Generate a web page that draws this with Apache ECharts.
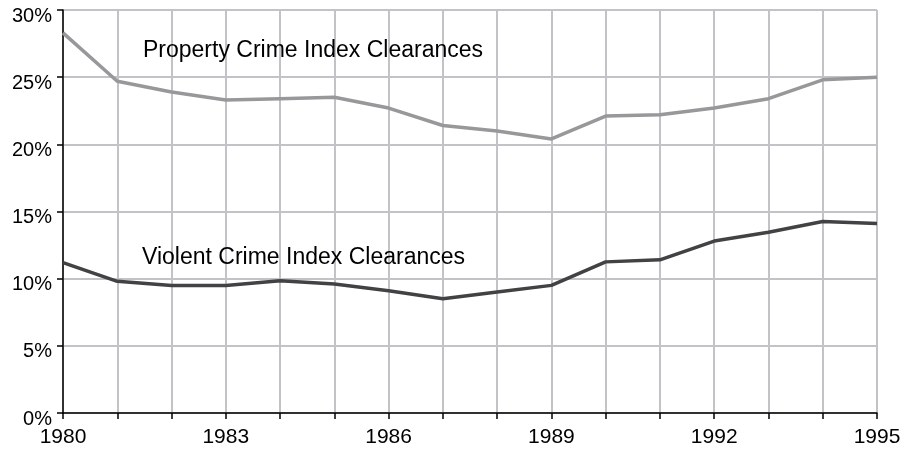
<!DOCTYPE html>
<html>
<head>
<meta charset="utf-8">
<script src="https://cdn.jsdelivr.net/npm/echarts@6/dist/echarts.min.js"></script>
<style>
  html, body { margin: 0; padding: 0; background: #fff; }
  #main { width: 919px; height: 449px; }
</style>
</head>
<body>
<div id="main"></div>
<script>
// 年份
var years = [1980, 1981, 1982, 1983, 1984, 1985, 1986, 1987, 1988, 1989, 1990, 1991, 1992, 1993, 1994, 1995];
// 财产犯罪破案率 (%)
var propertyClear = [28.3, 24.7, 23.9, 23.3, 23.4, 23.5, 22.7, 21.4, 21.0, 20.4, 22.1, 22.2, 22.7, 23.4, 24.8, 25.0];
// 暴力犯罪破案率 (%)
var violentClear = [11.2, 9.8, 9.5, 9.5, 9.85, 9.6, 9.1, 8.5, 9.0, 9.5, 11.25, 11.4, 12.8, 13.45, 14.25, 14.1];
var seriesNames = ['Property Crime Index Clearances', 'Violent Crime Index Clearances'];

var FONT = '"Liberation Sans", Arial, Helvetica, sans-serif';

function pairs(xs, ys) {
  var out = [];
  for (var i = 0; i < xs.length; i++) {
    out.push([xs[i], ys[i]]);
  }
  return out;
}

var myChart = echarts.init(document.getElementById('main'));
var option = {
  animation: false,
  backgroundColor: '#ffffff',
  grid: { left: 63, right: 42, top: 10, bottom: 36 },
  xAxis: {
    type: 'value',
    min: 1980,
    max: 1995,
    interval: 1,
    axisLine: { show: true, onZero: false, lineStyle: { color: '#000', width: 1.5 } },
    axisTick: { show: true, length: 6, lineStyle: { color: '#000', width: 1.5 } },
    splitLine: { show: true, lineStyle: { color: '#c3c3c7', width: 2 } },
    axisLabel: {
      color: '#000',
      fontFamily: FONT,
      fontSize: 21,
      margin: 14,
      showMinLabel: true,
      showMaxLabel: true,
      formatter: function (v) {
        return (v - 1980) % 3 === 0 ? String(v) : '';
      }
    }
  },
  yAxis: {
    type: 'value',
    min: 0,
    max: 30,
    interval: 5,
    axisLine: { show: true, lineStyle: { color: '#000', width: 1.5 } },
    axisTick: { show: true, length: 6, lineStyle: { color: '#000', width: 1.5 } },
    splitLine: { show: true, lineStyle: { color: '#c3c3c7', width: 2 } },
    axisLabel: {
      color: '#000',
      fontFamily: FONT,
      fontSize: 20,
      margin: 11,
      verticalAlign: 'top',
      lineHeight: 12,
      formatter: '{value}%'
    }
  },
  series: [
    {
      name: seriesNames[0],
      type: 'line',
      data: pairs(years, propertyClear),
      symbol: 'none',
      lineStyle: { color: '#98989b', width: 3.5 },
      z: 3
    },
    {
      name: seriesNames[1],
      type: 'line',
      data: pairs(years, violentClear),
      symbol: 'none',
      lineStyle: { color: '#424244', width: 3.5 },
      z: 3
    }
  ],
  graphic: [
    {
      type: 'text',
      left: 143,
      top: 39,
      z: 10,
      style: { text: seriesNames[0], fill: '#000', font: '23px ' + FONT }
    },
    {
      type: 'text',
      left: 142,
      top: 246,
      z: 10,
      style: { text: seriesNames[1], fill: '#000', font: '23px ' + FONT }
    }
  ]
};
myChart.setOption(option);
</script>
</body>
</html>
